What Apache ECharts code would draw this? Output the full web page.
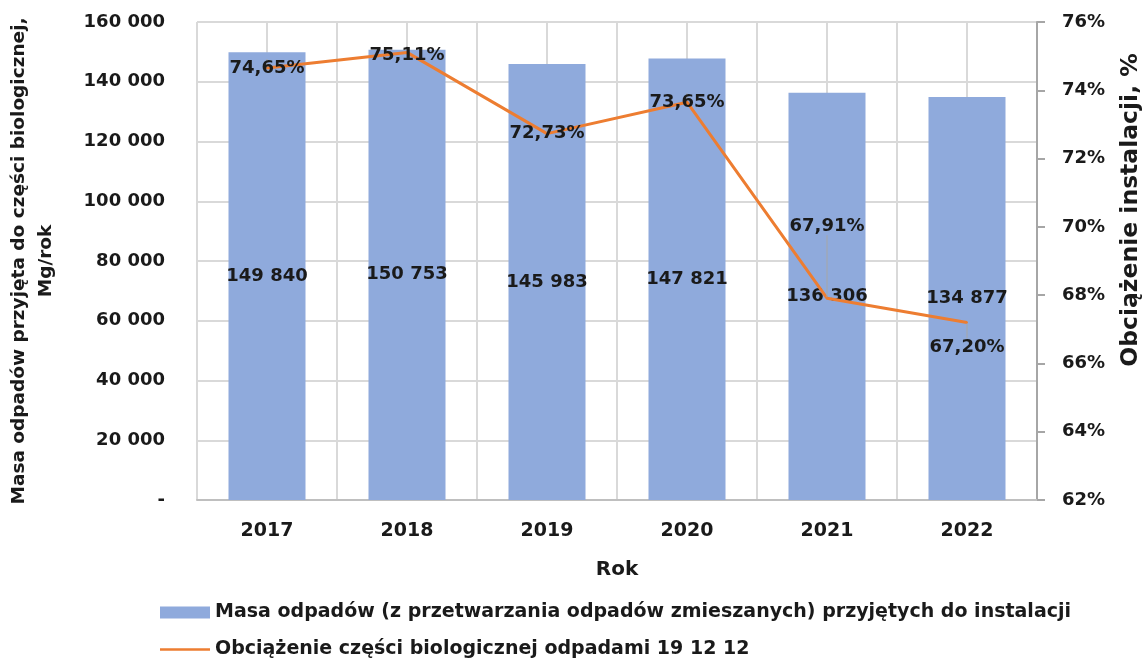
<!DOCTYPE html>
<html>
<head>
<meta charset="utf-8">
<script src="https://cdn.jsdelivr.net/npm/echarts@6/dist/echarts.min.js"></script>
<style>
  html, body { margin: 0; padding: 0; background: #fff; }
  #chart { width: 1148px; height: 660px; }
</style>
</head>
<body>
<div id="chart"></div>
<script>
// dane z wykresu
var years = ['2017', '2018', '2019', '2020', '2021', '2022'];
var masa = [149840, 150753, 145983, 147821, 136306, 134877];
var obciazenie = [74.65, 75.11, 72.73, 73.65, 67.91, 67.20];
var masaName = 'Masa odpadów (z przetwarzania odpadów zmieszanych) przyjętych do instalacji';
var obcName = 'Obciążenie części biologicznej odpadami 19 12 12';

var FONT = 'DejaVu Sans';
var txt = '#1a1a1a';
var gridColor = '#d9d9d9';

function fmtNum(v) {
  if (v === 0) return '-';
  return String(v).replace(/\B(?=(\d{3})+(?!\d))/g, ' ');
}
function fmtPct(v) {
  return v.toFixed(2).replace('.', ',') + '%';
}

var legendText = { fontFamily: FONT, fontSize: 19, fontWeight: 'bold', color: txt };

var chart = echarts.init(document.getElementById('chart'));
chart.setOption({
  animation: false,
  textStyle: { fontFamily: FONT },
  grid: { left: 197, right: 111, top: 22, bottom: 160, outerBoundsMode: 'none' },
  legend: [{
    left: 155,
    top: 598,
    itemWidth: 50,
    itemHeight: 12,
    textStyle: legendText,
    data: [{ name: masaName, icon: 'rect' }]
  }, {
    left: 155,
    top: 635,
    itemWidth: 50,
    itemHeight: 12,
    textStyle: legendText,
    data: [{ name: obcName, icon: 'path://M0,0 L50,0 L50,2.4 L0,2.4 Z' }]
  }],
  xAxis: [{
    type: 'category',
    data: years,
    name: 'Rok',
    nameLocation: 'middle',
    nameGap: 60,
    nameTextStyle: { fontSize: 20, fontWeight: 'bold', color: txt },
    axisLine: { lineStyle: { color: '#bfbfbf', width: 2 } },
    axisTick: { show: false },
    axisLabel: { margin: 22, fontSize: 19, fontWeight: 'bold', color: txt },
    splitLine: { show: false }
  }, {
    // pomocnicza oś tylko dla pionowych linii siatki
    type: 'value',
    min: 0,
    max: 12,
    interval: 1,
    position: 'top',
    axisLine: { show: false },
    axisTick: { show: false },
    axisLabel: { show: false },
    splitLine: { show: true, lineStyle: { color: gridColor, width: 2 } }
  }],
  yAxis: [{
    type: 'value',
    min: 0,
    max: 160000,
    interval: 20000,
    name: 'Masa odpadów przyjęta do części biologicznej,\nMg/rok',
    nameLocation: 'middle',
    nameGap: 137,
    nameTextStyle: { fontSize: 18.5, fontWeight: 'bold', color: txt, lineHeight: 27 },
    axisLine: { show: false },
    axisTick: { show: false },
    axisLabel: { margin: 32, fontSize: 18, fontWeight: 'bold', color: txt, formatter: fmtNum },
    splitLine: { show: true, lineStyle: { color: gridColor, width: 2 } }
  }, {
    type: 'value',
    min: 62,
    max: 76,
    interval: 2,
    position: 'right',
    axisLine: { show: true, lineStyle: { color: '#a6a6a6', width: 2 } },
    axisTick: { show: true, length: 8, lineStyle: { color: '#a6a6a6', width: 2 } },
    axisLabel: { margin: 25, fontSize: 18, fontWeight: 'bold', color: txt, formatter: function (v) { return v + '%'; } },
    splitLine: { show: false }
  }],
  graphic: [{
    type: 'text',
    x: 1131,
    y: 210,
    rotation: Math.PI / 2,
    style: {
      text: 'Obciążenie instalacji, %',
      font: 'bold 23.5px "DejaVu Sans"',
      fill: txt,
      align: 'center',
      verticalAlign: 'middle'
    }
  }],
  series: [{
    name: masaName,
    type: 'bar',
    data: masa,
    barWidth: '55%',
    itemStyle: { color: '#8faadc' },
    label: {
      show: true,
      position: 'inside',
      fontSize: 18,
      fontWeight: 'bold',
      color: txt,
      formatter: function (p) { return fmtNum(p.value); }
    }
  }, {
    name: obcName,
    type: 'line',
    yAxisIndex: 1,
    data: obciazenie,
    symbol: 'circle',
    symbolSize: 2,
    showSymbol: true,
    lineStyle: { color: '#ed7d31', width: 3 },
    itemStyle: { color: '#ed7d31' },
    z: 3,
    label: {
      show: true,
      position: 'inside',
      fontSize: 18,
      fontWeight: 'bold',
      color: txt,
      formatter: function (p) { return fmtPct(p.value); }
    },
    labelLine: { show: true, lineStyle: { color: '#a6a6a6', width: 1 } },
    labelLayout: function (p) {
      if (p.dataIndex === 1) return { dy: 3 };
      if (p.dataIndex === 4) return { dy: -72 };
      if (p.dataIndex === 5) return { dy: 25 };
      return {};
    }
  }]
});
</script>
</body>
</html>
